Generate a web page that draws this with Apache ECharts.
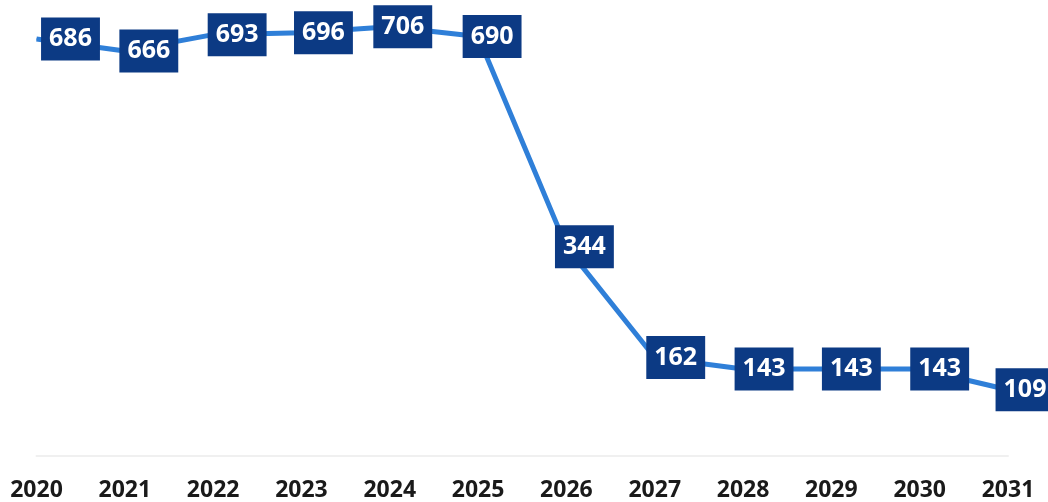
<!DOCTYPE html>
<html>
<head>
<meta charset="utf-8">
<script src="https://cdn.jsdelivr.net/npm/echarts@6/dist/echarts.min.js"></script>
<style>
html,body{margin:0;padding:0;background:#fff;}
#chart{width:1048px;height:502px;}
</style>
</head>
<body>
<div id="chart"></div>
<script>
const categories = ['2020','2021','2022','2023','2024','2025','2026','2027','2028','2029','2030','2031'];
const values = [686, 666, 693, 696, 706, 690, 344, 162, 143, 143, 143, 109];

const labelOffsets = [34, 24, 24, 22, 13, 14, 18, 21, 21, 20, 20, 17];

const chart = echarts.init(document.getElementById('chart'));
chart.setOption({
  animation: false,
  backgroundColor: '#ffffff',
  grid: { left: 36.5, right: 40, top: 0, bottom: 46, containLabel: false },
  xAxis: {
    type: 'category',
    data: categories,
    boundaryGap: false,
    axisLine: { show: true, lineStyle: { color: '#f0f0f0', width: 2 } },
    axisTick: { show: false },
    axisLabel: {
      margin: 23,
      color: '#1a1a1a',
      fontSize: 23,
      fontWeight: 'bold',
      fontFamily: 'Open Sans',
      interval: 0
    },
    splitLine: { show: false }
  },
  yAxis: {
    type: 'value',
    min: 0,
    max: 750,
    show: false,
    splitLine: { show: false }
  },
  series: [{
    type: 'line',
    data: values,
    clip: false,
    symbol: 'circle',
    symbolSize: 1,
    showSymbol: true,
    itemStyle: { color: '#2f7fd8' },
    lineStyle: { color: '#2f7fd8', width: 5 },
    label: {
      show: true,
      position: 'inside',
      color: '#ffffff',
      fontSize: 25,
      fontWeight: 'bold',
      fontFamily: 'Open Sans',
      backgroundColor: '#0c3a84',
      padding: [7, 8, 5, 8],
      lineHeight: 31
    },
    labelLayout: function (params) {
      return { dx: labelOffsets[params.dataIndex], hideOverlap: false };
    },
    z: 3
  }]
});
</script>
</body>
</html>
